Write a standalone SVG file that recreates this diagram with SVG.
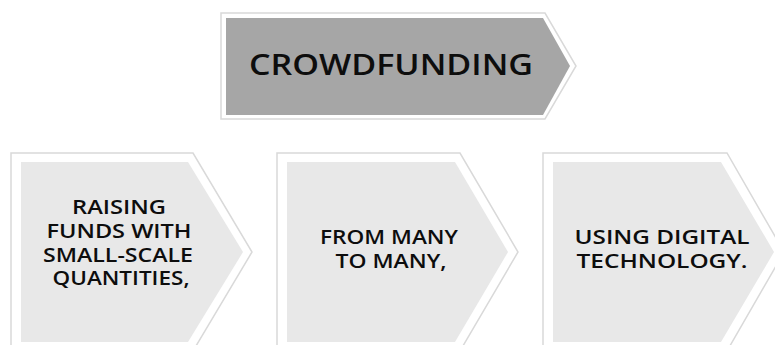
<svg xmlns="http://www.w3.org/2000/svg" width="775" height="345" viewBox="0 0 775 345">
<style>
.outer{fill:#ffffff;stroke:#d9d9d9;stroke-width:1.5}
.top{fill:#a6a6a6}
.inner{fill:#e8e8e8}
text{font-family:"Open Sans","Liberation Sans",Arial,sans-serif;font-weight:600;fill:#0d0d0d;text-anchor:middle}
.t1{font-size:28px}
.t2{font-size:19.5px}
</style>
<rect width="775" height="345" fill="#ffffff"/>
<g id="crowdfunding">
<polygon class="outer" points="221,13 545,13 576,66 545,119 221,119"/>
<polygon class="top" points="226,18 543,18 570,66 543,115 226,115"/>
<text class="t1" x="391" y="75" textLength="284" lengthAdjust="spacingAndGlyphs">CROWDFUNDING</text>
</g>
<g id="box1">
<polygon class="outer" points="11,153 193,153 252,252 193,351 11,351"/>
<polygon class="inner" points="21,162 188,162 243,252 188,342 21,342"/>
<text class="t2" x="119" y="214" textLength="94" lengthAdjust="spacingAndGlyphs">RAISING</text>
<text class="t2" x="119" y="238" textLength="145" lengthAdjust="spacingAndGlyphs">FUNDS WITH</text>
<text class="t2" x="118" y="262" textLength="150" lengthAdjust="spacingAndGlyphs">SMALL-SCALE</text>
<text class="t2" x="121" y="285" textLength="137" lengthAdjust="spacingAndGlyphs">QUANTITIES,</text>
</g>
<g id="box2">
<polygon class="outer" points="277,153 460,153 518,252 460,351 277,351"/>
<polygon class="inner" points="287,162 455,162 508,252 455,342 287,342"/>
<text class="t2" x="389" y="244" textLength="138" lengthAdjust="spacingAndGlyphs">FROM MANY</text>
<text class="t2" x="391" y="268" textLength="111" lengthAdjust="spacingAndGlyphs">TO MANY,</text>
</g>
<g id="box3">
<polygon class="outer" points="543,153 727,153 784,252 727,351 543,351"/>
<polygon class="inner" points="553,162 721,162 774,252 721,342 553,342"/>
<text class="t2" x="662" y="244" textLength="175" lengthAdjust="spacingAndGlyphs">USING DIGITAL</text>
<text class="t2" x="662" y="268" textLength="171" lengthAdjust="spacingAndGlyphs">TECHNOLOGY.</text>
</g>
<g id="connectors"></g>
</svg>
